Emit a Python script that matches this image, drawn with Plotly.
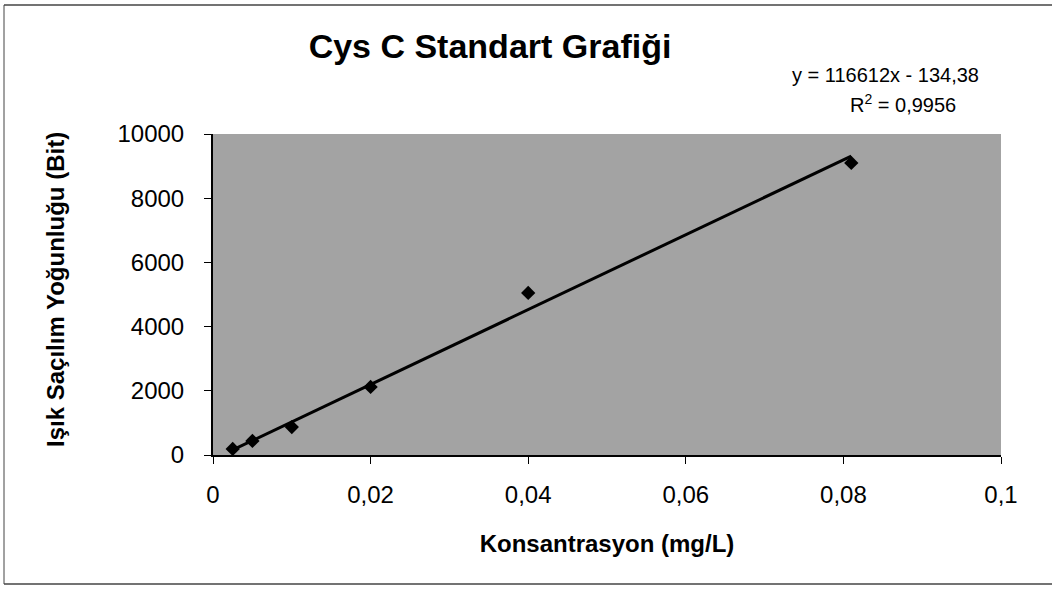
import plotly.graph_objects as go

# Data
konsantrasyon = [0.0025, 0.005, 0.01, 0.02, 0.04, 0.081]
yogunluk = [190, 440, 870, 2120, 5050, 9100]

# Trendline (from chart's equation label)
egim = 116612
kesisim = -134.38

x_ticks = [0, 0.02, 0.04, 0.06, 0.08, 0.1]
x_ticktext = ["0", "0,02", "0,04", "0,06", "0,08", "0,1"]
y_ticks = [0, 2000, 4000, 6000, 8000, 10000]
y_ticktext = ["0", "2000", "4000", "6000", "8000", "10000"]

trend_x = [min(konsantrasyon), max(konsantrasyon)]
trend_y = [egim * v + kesisim for v in trend_x]

FONT = "Liberation Sans, Arial, sans-serif"

L, R, T, B = 213, 51, 134, 135
PW, PH = 1052 - L - R, 590 - T - B


def px(xpix):
    return (xpix - L) / PW


def py(ypix):
    return (590 - B - ypix) / PH


fig = go.Figure()
fig.add_trace(go.Scatter(x=trend_x, y=trend_y, mode="lines",
                         line=dict(color="black", width=3), hoverinfo="skip",
                         showlegend=False))
fig.add_trace(go.Scatter(x=konsantrasyon, y=yogunluk, mode="markers",
                         marker=dict(symbol="diamond", size=11, color="black"),
                         showlegend=False))

fig.update_layout(
    width=1052, height=590,
    margin=dict(l=L, r=R, t=T, b=B),
    paper_bgcolor="white",
    plot_bgcolor="#a3a3a3",
    font=dict(family=FONT, color="black"),
    title=dict(text="<b>Cys C Standart Grafiği</b>", x=490 / 1052, xanchor="center",
               y=1 - 46 / 590, yanchor="middle", font=dict(size=34, family=FONT)),
    xaxis=dict(range=[0, 0.1], tickvals=x_ticks, ticktext=x_ticktext,
               showgrid=False, zeroline=False, showline=True, linecolor="black",
               linewidth=2, ticks="outside", ticklen=7, tickcolor="black",
               ticklabelstandoff=10,
               tickfont=dict(size=24), title=dict(text="<b>Konsantrasyon (mg/L)</b>",
               font=dict(size=24), standoff=28)),
    yaxis=dict(range=[0, 10000], tickvals=y_ticks, ticktext=y_ticktext,
               showgrid=False, zeroline=False, showline=True, linecolor="black",
               linewidth=2, ticks="outside", ticklen=7, tickcolor="black",
               ticklabelstandoff=15,
               tickfont=dict(size=24)),
    annotations=[
        dict(text="<b>Işık Saçılım Yoğunluğu (Bit)</b>", xref="paper", yref="paper",
             x=px(55), y=py(290), textangle=-90,
             xanchor="center", yanchor="middle", showarrow=False,
             font=dict(size=24)),
        dict(text="y = 116612x - 134,38", xref="paper", yref="paper",
             x=px(885), y=py(75),
             xanchor="center", yanchor="middle", showarrow=False,
             font=dict(size=20)),
        dict(text="R<sup>2</sup> = 0,9956", xref="paper", yref="paper",
             x=px(903), y=py(103),
             xanchor="center", yanchor="middle", showarrow=False,
             font=dict(size=20)),
    ],
    shapes=[
        dict(type="line", xref="paper", yref="paper", x0=px(4), x1=px(1052),
             y0=py(5), y1=py(5), line=dict(color="#444", width=1.5)),
        dict(type="line", xref="paper", yref="paper", x0=px(4), x1=px(1052),
             y0=py(584), y1=py(584), line=dict(color="#444", width=1.5)),
        dict(type="line", xref="paper", yref="paper", x0=px(4), x1=px(4),
             y0=py(584), y1=py(5), line=dict(color="#444", width=1)),
    ],
)

fig.write_html("out.html", post_script="document.body.style.margin='0';",
               config={"displayModeBar": False})
